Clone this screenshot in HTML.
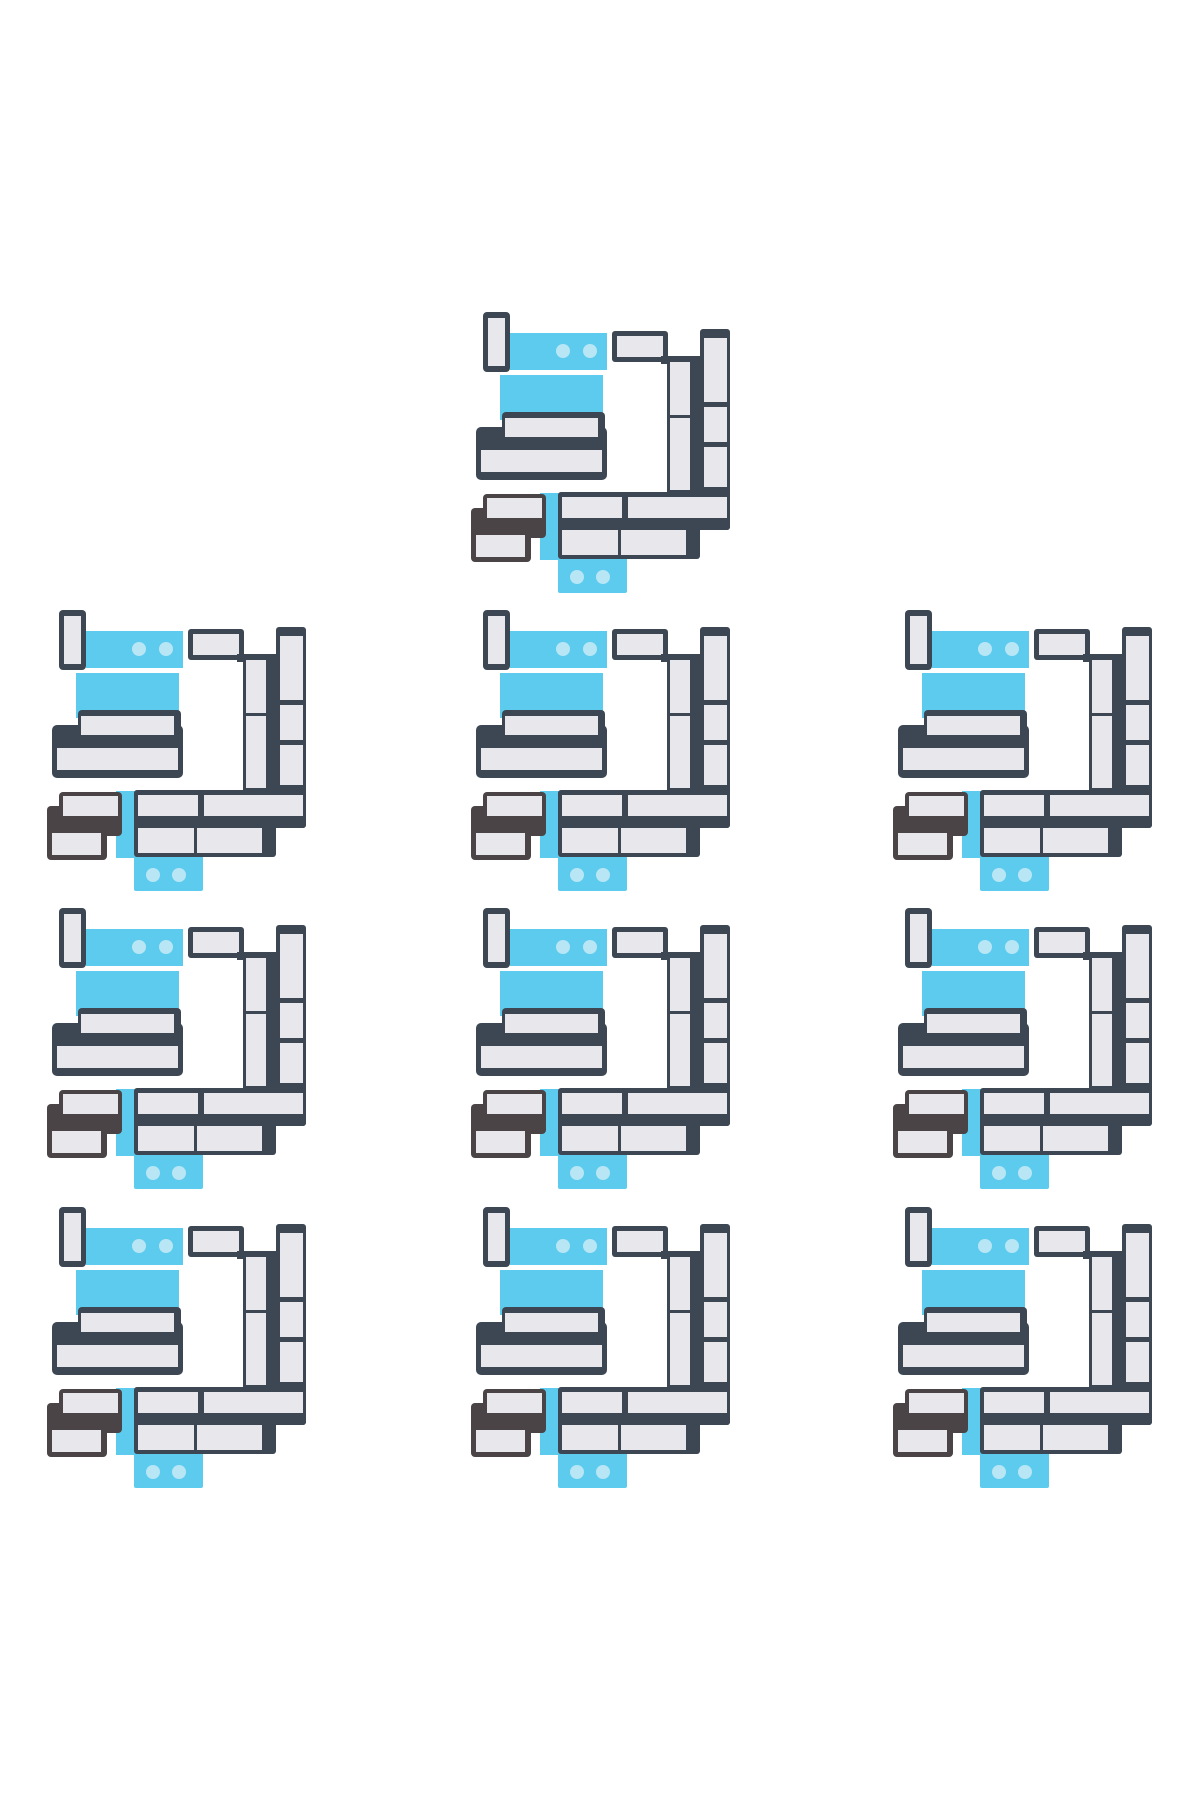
<!DOCTYPE html>
<html><head><meta charset="utf-8"><style>
html,body{margin:0;padding:0;background:#fff;}
svg{display:block;}
</style></head><body>
<svg width="1200" height="1800" viewBox="0 0 1200 1800" xmlns="http://www.w3.org/2000/svg">
<defs>
<g id="u">
  <rect x="39" y="21" width="97" height="37" fill="#5ccbee"/>
  <circle cx="92" cy="39" r="7" fill="#b8e6f5"/>
  <circle cx="119" cy="39" r="7" fill="#b8e6f5"/>
  <rect x="29" y="63" width="103" height="45" fill="#5ccbee"/>
  <rect x="69" y="181" width="22" height="67" fill="#5ccbee"/>
  <rect x="87" y="240" width="69" height="41" rx="2" fill="#5ccbee"/>
  <circle cx="106" cy="265" r="7" fill="#b8e6f5"/>
  <circle cx="132" cy="265" r="7" fill="#b8e6f5"/>
  <rect x="12" y="0" width="27" height="60" rx="4" fill="#3c4753"/>
  <rect x="17" y="6" width="17" height="48" fill="#e8e8ec"/>
  <rect x="31" y="100" width="103" height="30" rx="4" fill="#3c4753"/>
  <rect x="5" y="115" width="131" height="53" rx="5" fill="#3c4753"/>
  <rect x="34" y="106" width="93" height="19" fill="#e8e8ec"/>
  <rect x="10" y="138" width="121" height="22" fill="#e8e8ec"/>
  <rect x="141" y="19" width="56" height="31" rx="3" fill="#3c4753"/>
  <rect x="146" y="24" width="46" height="21" fill="#e8e8ec"/>
  <rect x="190" y="44" width="42" height="8" fill="#3c4753"/>
  <rect x="196" y="44" width="40" height="150" fill="#3c4753"/>
  <rect x="229" y="17" width="30" height="201" rx="3" fill="#3c4753"/>
  <rect x="87" y="180" width="172" height="38" rx="3" fill="#3c4753"/>
  <rect x="87" y="210" width="142" height="37" rx="3" fill="#3c4753"/>
  <rect x="199" y="50" width="20" height="53" fill="#e8e8ec"/>
  <rect x="199" y="106" width="20" height="72" fill="#e8e8ec"/>
  <rect x="233" y="26" width="23" height="64" fill="#e8e8ec"/>
  <rect x="233" y="95" width="23" height="35" fill="#e8e8ec"/>
  <rect x="233" y="135" width="23" height="40" fill="#e8e8ec"/>
  <rect x="91" y="185" width="60" height="21" fill="#e8e8ec"/>
  <rect x="157" y="185" width="99" height="21" fill="#e8e8ec"/>
  <rect x="91" y="218" width="56" height="25" fill="#e8e8ec"/>
  <rect x="150" y="218" width="65" height="25" fill="#e8e8ec"/>
  <rect x="12" y="182" width="63" height="44" rx="4" fill="#4a4446"/>
  <rect x="0" y="196" width="60" height="54" rx="4" fill="#4a4446"/>
  <rect x="16" y="186" width="55" height="20" fill="#e8e8ec"/>
  <rect x="5" y="223" width="49" height="22" fill="#e8e8ec"/>
</g>
</defs>
<use href="#u" x="471" y="312"/>
<use href="#u" x="47" y="610"/>
<use href="#u" x="471" y="610"/>
<use href="#u" x="893" y="610"/>
<use href="#u" x="47" y="908"/>
<use href="#u" x="471" y="908"/>
<use href="#u" x="893" y="908"/>
<use href="#u" x="47" y="1207"/>
<use href="#u" x="471" y="1207"/>
<use href="#u" x="893" y="1207"/>
</svg>
</body></html>
